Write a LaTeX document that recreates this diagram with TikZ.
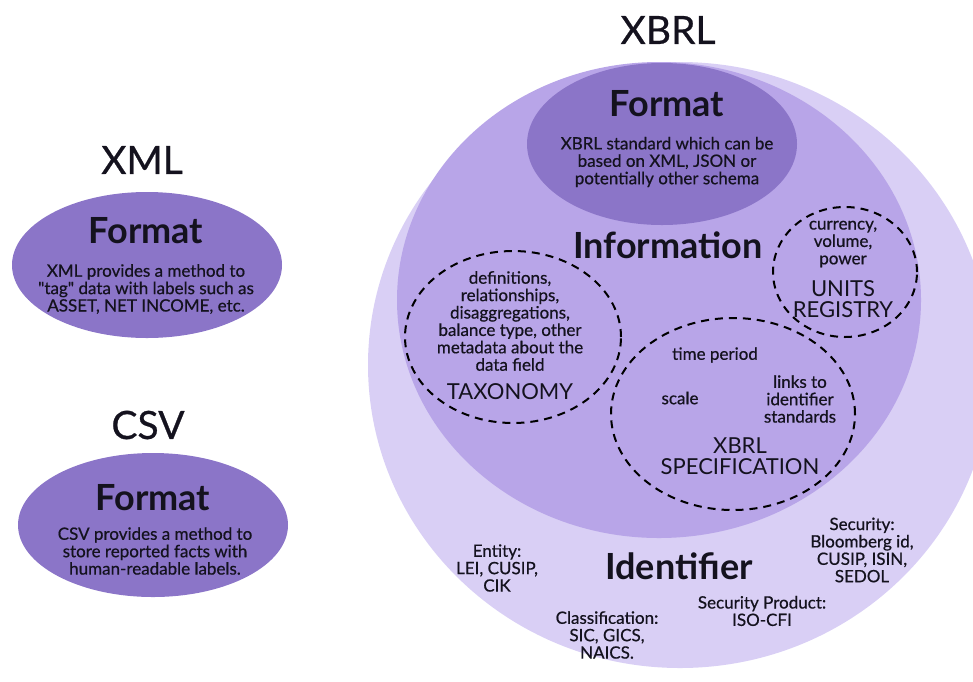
\documentclass[tikz,border=0pt]{standalone}
\usepackage{fontspec}
\setmainfont{Lato}
\newfontfamily\latomid{Lato}[FakeBold=0.6]
\usepackage{tikz}
\usetikzlibrary{positioning}
\definecolor{darkfill}{RGB}{139,117,200}
\definecolor{midfill}{RGB}{184,165,232}
\definecolor{lightfill}{RGB}{217,207,245}
\definecolor{inktext}{RGB}{20,18,30}
\tikzset{
    x=1pt, y=-1pt, % pixel coordinates, y going down
    title/.style={font=\fontsize{39}{44}\latomid, text=inktext}, % XML, CSV, XBRL
    heading/.style={font=\fontsize{36}{40}\selectfont\bfseries, text=inktext}, % Format, Information
    body/.style={align=center, font=\fontsize{17}{17.4}\latomid, text=inktext}, % small text
    tag/.style={align=center, font=\fontsize{22}{21.5}\selectfont, text=inktext, inner sep=1pt}, % names in the dashed rings
    dashring/.style={draw=black, line width=2pt, dash pattern=on 8pt off 6pt}, % dashed rings
}

\begin{document}
\begin{tikzpicture}
    \useasboundingbox (0,0) rectangle (973,681);
    \clip (0,0) rectangle (973,681);

    % left side
    \fill[darkfill] (147,265) ellipse [x radius=135pt, y radius=73pt];
    \fill[darkfill] (153,525) ellipse [x radius=135pt, y radius=72pt];

    \node[title] (xml) at (142,160) {XML};
    \node[heading] (xmlformat) at (146,231) {Format};
    \node[body] (xmltext) at (146,289) {XML provides a method to\\\textquotedbl tag\textquotedbl{} data with labels such as\\ASSET, NET INCOME, etc.};

    \node[title] (csv) at (148,425) {CSV};
    \node[heading] (csvformat) at (153,498) {Format};
    \node[body] (csvtext) at (155,551) {CSV provides a method to\\store reported facts with\\human-readable labels.};

    % XBRL rings
    \fill[lightfill] (680,365) ellipse [x radius=312pt, y radius=303pt];
    \fill[midfill] (659,300) ellipse [x radius=262pt, y radius=238pt];
    \fill[darkfill] (662,144) ellipse [x radius=135pt, y radius=81pt];

    \draw[dashring] (513,337) ellipse [x radius=108pt, y radius=86pt];
    \draw[dashring] (845,272) ellipse [x radius=72pt, y radius=65pt];
    \draw[dashring] (733,414) ellipse [x radius=122pt, y radius=96pt];

    \node[title] (xbrl) at (668,30) {XBRL};
    \node[heading] (xbrlformat) at (667,104) {Format};
    \node[body] (xbrltext) at (667,162) {XBRL standard which can be\\based on XML, JSON or\\potentially other schema};

    \node[heading] (information) at (668,245) {Information};

    \node[body] (taxtext) at (510,321) {definitions,\\relationships,\\disaggregations,\\balance type, other\\metadata about the\\data field};
    \node[tag] (taxonomy) at (510,392) {TAXONOMY};

    \node[body] (unitstext) at (843,244) {currency,\\volume,\\power};
    \node[tag] (units) at (843,299) {UNITS\\REGISTRY};

    \node[body] (period) at (715,355) {time period};
    \node[body] (scale) at (680,398) {scale};
    \node[body] (links) at (800,399) {links to\\identifier\\standards};
    \node[tag] (spec) at (740,456) {XBRL\\SPECIFICATION};

    \node[heading] (identifier) at (679,566) {Identifier};
    \node[body] (entity) at (497,568) {Entity:\\LEI, CUSIP,\\CIK};
    \node[body] (security) at (862,550) {Security:\\Bloomberg id,\\CUSIP, ISIN,\\SEDOL};
    \node[body] (product) at (762,611) {Security Product:\\ISO-CFI};
    \node[body] (classification) at (607,635) {Classification:\\SIC, GICS,\\NAICS.};
\end{tikzpicture}
\end{document}
